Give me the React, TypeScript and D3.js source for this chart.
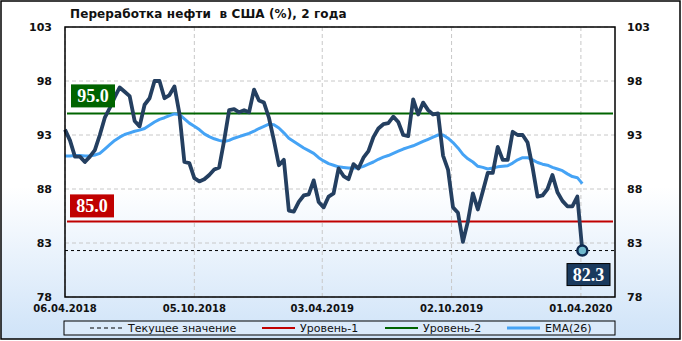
import React from "react";
import * as d3 from "d3";

const title = "Переработка нефти  в США (%), 2 года";
const startDate = "2018-04-06";
const domainEnd = "2020-05-19";
const xTickLabels = ["06.04.2018", "05.10.2018", "03.04.2019", "02.10.2019", "01.04.2020"];
const yTicks = [78, 83, 88, 93, 98, 103];
const level1 = 85.0;
const level2 = 95.0;
const currentValue = 82.3;
const legendLabels = ["Текущее значение", "Уровень-1", "Уровень-2", "EMA(26)"];

const refining = [
  93.5, 92.5, 91.0, 91.0, 90.5, 91.0, 91.6, 93.0, 94.6, 95.5,
  96.5, 97.4, 97.0, 96.6, 94.3, 93.8, 95.8, 96.4, 98.0, 98.0,
  96.4, 96.7, 97.5, 95.0, 90.5, 90.4, 89.0, 88.7, 88.9, 89.3,
  89.8, 90.0, 92.5, 95.3, 95.4, 95.1, 95.3, 95.1, 97.2, 96.2,
  96.0, 94.6, 92.5, 90.2, 90.7, 86.0, 85.9, 86.8, 87.4, 87.5,
  88.8, 86.8, 86.3, 87.3, 87.6, 89.9, 89.2, 88.9, 90.3, 89.9,
  90.9, 91.5, 92.8, 93.6, 94.0, 94.1, 94.7, 94.2, 93.0, 92.9,
  96.3, 94.9, 96.0, 95.3, 94.9, 95.0, 91.1, 89.8, 86.3, 85.8,
  83.1, 85.0, 87.6, 86.1, 87.8, 89.5, 89.5, 91.9, 90.7, 90.7,
  93.3, 93.0, 93.0, 92.3, 90.0, 87.3, 87.4, 88.0, 89.3, 87.7,
  86.9, 86.4, 86.4, 87.3, 82.3,
];

const ema26 = [
  91.05, 91.05, 91.1, 91.1, 91.05, 91.05, 91.15, 91.3, 91.7, 92.1,
  92.5, 92.8, 93.05, 93.2, 93.35, 93.45, 93.6, 93.9, 94.2, 94.45,
  94.6, 94.8, 94.95, 94.9, 94.5, 94.1, 93.8, 93.5, 93.1, 92.85,
  92.65, 92.5, 92.4, 92.5, 92.7, 92.85, 93.0, 93.15, 93.35, 93.6,
  93.8, 94.0, 93.95, 93.65, 93.2, 92.7, 92.4, 92.1, 91.8, 91.55,
  91.3, 90.9, 90.6, 90.35, 90.2, 90.05, 90.0, 89.95, 89.95, 89.95,
  90.1, 90.3, 90.5, 90.75, 90.95, 91.1, 91.3, 91.5, 91.7, 91.85,
  92.0, 92.2, 92.4, 92.6, 92.8, 93.0, 93.0, 92.7, 92.3, 91.8,
  91.2, 90.8, 90.5, 90.1, 90.0, 89.85, 89.95, 90.05, 90.1, 90.15,
  90.4, 90.7, 90.9, 90.9, 90.7, 90.45, 90.3, 90.2, 90.0, 89.85,
  89.7, 89.4, 89.15, 89.05, 88.5,
];

const W = 682;
const H = 341;
const M = { left: 65, right: 615, top: 27, bottom: 297 };

const parseTick = (s: string) => {
  const [d, m, y] = s.split(".").map(Number);
  return new Date(Date.UTC(y, m - 1, d));
};

export default function App() {
  const t0 = new Date(startDate + "T00:00:00Z");
  const dates = refining.map((_, i) => new Date(t0.getTime() + i * 7 * 86400000));
  const x = d3.scaleUtc().domain([t0, new Date(domainEnd + "T00:00:00Z")]).range([M.left, M.right]);
  const y = d3.scaleLinear().domain([78, 103]).range([M.bottom, M.top]);

  const line = d3.line<number>().x((_, i) => x(dates[i])).y((v) => y(v)).curve(d3.curveLinear);
  const mainPath = line(refining) || "";
  const emaPath = line(ema26) || "";

  const font = "'DejaVu Sans', Verdana, sans-serif";
  const serif = "'Liberation Serif', 'Times New Roman', serif";
  const lastX = x(dates[dates.length - 1]);
  const lastY = y(refining[refining.length - 1]);
  const legendY = 328;

  return (
    <svg width={W} height={H} style={{ position: "absolute", left: 0, top: 0 }}>
      <defs>
        <linearGradient id="bg" x1="0" y1="0" x2="0" y2="1">
          <stop offset="0" stopColor="#ffffff" />
          <stop offset="0.55" stopColor="#ffffff" />
          <stop offset="1" stopColor="#cfe3f8" />
        </linearGradient>
      </defs>
      <rect x={1} y={1} width={W - 3} height={H - 3} fill="url(#bg)" stroke="#000" strokeWidth={1.5} />
      <text x={70} y={18} fontFamily={font} fontWeight="bold" fontSize={12} fill="#111" style={{ whiteSpace: "pre" }} letterSpacing={0.1}>
        {title}
      </text>

      {/* grid */}
      {yTicks.map((t) => (
        <line key={"gy" + t} x1={M.left} x2={M.right} y1={y(t)} y2={y(t)} stroke="#c8c8c8" strokeDasharray="4,3" />
      ))}
      {xTickLabels.map((s) => (
        <line key={"gx" + s} x1={x(parseTick(s))} x2={x(parseTick(s))} y1={M.top} y2={M.bottom} stroke="#c8c8c8" strokeDasharray="4,3" />
      ))}

      {/* levels */}
      <line x1={M.left + 2} x2={M.right - 2} y1={y(level2)} y2={y(level2)} stroke="#006400" strokeWidth={2} />
      <line x1={M.left + 2} x2={M.right - 2} y1={y(level1)} y2={y(level1)} stroke="#c00000" strokeWidth={2} />
      <line x1={M.left} x2={M.right} y1={y(currentValue)} y2={y(currentValue)} stroke="#000" strokeWidth={1} strokeDasharray="3,3" />

      {/* series */}
      <path d={emaPath} fill="none" stroke="#45a3f5" strokeWidth={3} strokeLinejoin="round" />
      <path d={mainPath} fill="none" stroke="#243f60" strokeWidth={3.8} strokeLinejoin="round" />
      <circle cx={lastX} cy={lastY} r={5} fill="#6fb8cc" stroke="#0d2a50" strokeWidth={2.5} />

      {/* level labels */}
      <rect x={71} y={y(level2) - 29} width={44} height={23} fill="#006400" />
      <text x={93} y={y(level2) - 11} textAnchor="middle" fontFamily={serif} fontWeight="bold" fontSize={18} fill="#fff">
        {level2.toFixed(1)}
      </text>
      <rect x={70} y={y(level1) - 27} width={44} height={23} fill="#c00000" />
      <text x={92} y={y(level1) - 9} textAnchor="middle" fontFamily={serif} fontWeight="bold" fontSize={18} fill="#fff">
        {level1.toFixed(1)}
      </text>
      <rect x={567} y={y(currentValue) + 13} width={43} height={22} fill="#1a3a5e" stroke="#000" strokeWidth={1} />
      <text x={588.5} y={y(currentValue) + 30} textAnchor="middle" fontFamily={serif} fontWeight="bold" fontSize={18} fill="#fff">
        {currentValue.toFixed(1)}
      </text>

      {/* plot border */}
      <rect x={M.left} y={M.top} width={M.right - M.left} height={M.bottom - M.top} fill="none" stroke="#000" strokeWidth={1.5} />

      {/* y labels */}
      {yTicks.map((t) => (
        <g key={"yl" + t}>
          <text x={52} y={y(t) + 4} textAnchor="end" fontFamily={font} fontWeight="bold" fontSize={11} fill="#111">
            {t}
          </text>
          <text x={627} y={y(t) + 4} textAnchor="start" fontFamily={font} fontWeight="bold" fontSize={11} fill="#111">
            {t}
          </text>
        </g>
      ))}
      {/* x labels */}
      {xTickLabels.map((s) => (
        <text key={"xl" + s} x={x(parseTick(s))} y={312} textAnchor="middle" fontFamily={font} fontWeight="bold" fontSize={10} fill="#111">
          {s}
        </text>
      ))}

      {/* legend */}
      <rect x={64} y={321} width={551} height={14} fill="#dbeafa" stroke="#000" strokeWidth={1} />
      <line x1={90} x2={122} y1={legendY} y2={legendY} stroke="#000" strokeWidth={1} strokeDasharray="4,3" />
      <text x={128} y={legendY + 4} fontFamily={font} fontSize={11} fill="#111">{legendLabels[0]}</text>
      <line x1={262} x2={295} y1={legendY} y2={legendY} stroke="#c00000" strokeWidth={2} />
      <text x={300} y={legendY + 4} fontFamily={font} fontSize={11} fill="#111">{legendLabels[1]}</text>
      <line x1={385} x2={418} y1={legendY} y2={legendY} stroke="#006400" strokeWidth={2} />
      <text x={423} y={legendY + 4} fontFamily={font} fontSize={11} fill="#111">{legendLabels[2]}</text>
      <line x1={507} x2={540} y1={legendY} y2={legendY} stroke="#45a3f5" strokeWidth={3} />
      <text x={545} y={legendY + 4} fontFamily={font} fontSize={11} fill="#111">{legendLabels[3]}</text>
    </svg>
  );
}
